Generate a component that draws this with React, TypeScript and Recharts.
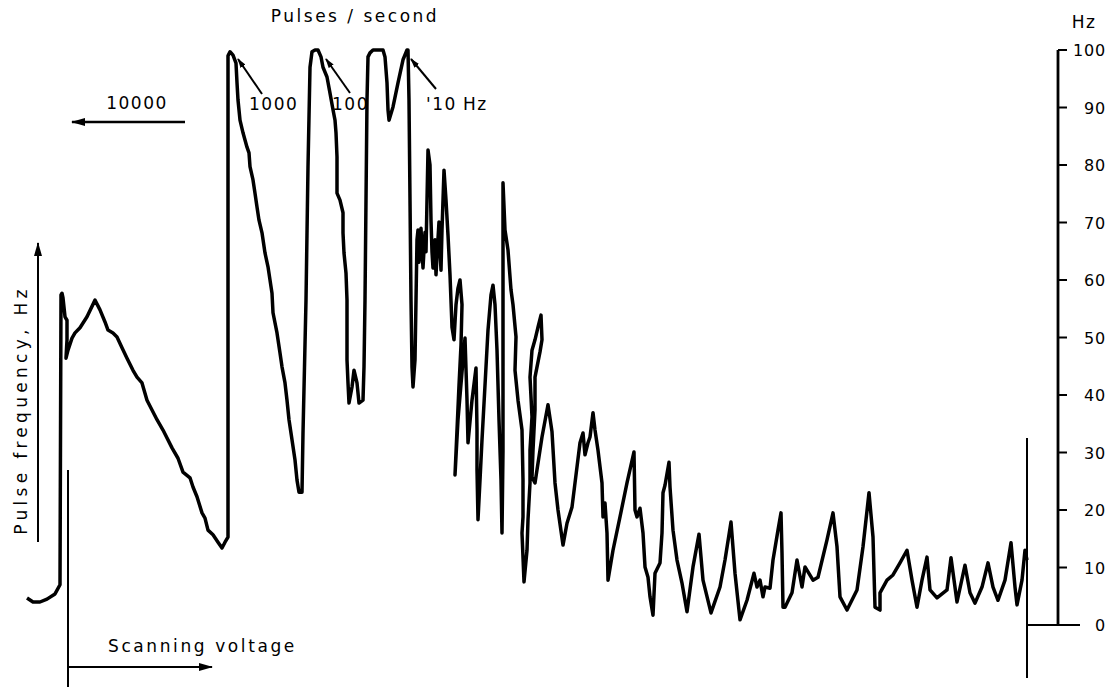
import React from 'react'
import { LineChart, Line, XAxis, YAxis } from 'recharts'

// trace: [scanning position, pulse frequency Hz]
const startHook: [number, number][] = [
    [0, 4.7], [6, 4.0], [13, 4.0], [20, 4.5], [28, 5.4], [33, 7.0], [34, 57.4], [35, 57.7], [36, 56.9],
    [38, 53.6], [40, 53.0], [40, 49.6], [39, 46.4], [41, 47.8], [45, 49.9], [48, 50.8], [53, 51.7], [60, 53.6], [68, 56.5],
]

const firstRamp: [number, number][] = [
    [73, 54.8], [78, 52.7], [81, 51.3], [86, 50.8], [90, 50.1], [95, 48.2], [100, 46.4], [106, 44.3], [110, 43.1],
    [115, 42.1], [120, 39.1], [125, 37.4], [130, 35.7], [136, 33.9], [145, 30.8], [151, 29.0], [156, 26.6], [163, 25.6],
    [166, 24.0], [170, 22.3], [175, 19.5], [178, 18.6], [181, 16.5], [186, 15.7], [191, 14.4], [195, 13.4], [198, 14.4], [201, 15.3],
]

const peak1000: [number, number][] = [
    [201, 99.0], [203, 99.7], [206, 99.1], [209, 97.7], [210, 94.3], [211, 91.3], [213, 87.8], [216, 85.6], [220, 83.1],
    [222, 82.1], [223, 79.7], [226, 77.4], [228, 75.1], [230, 72.7], [232, 70.4], [235, 68.2], [238, 64.7], [241, 62.3],
    [243, 60.0], [245, 57.7], [246, 54.3], [250, 50.8], [253, 47.3], [255, 44.9], [258, 42.1], [260, 39.1], [262, 35.7],
    [265, 32.2], [268, 28.7], [270, 25.2], [272, 23.1], [275, 23.1],
]

const peak100: [number, number][] = [
    [276, 33.4], [279, 56.5], [281, 79.7], [283, 97.0], [285, 99.7], [288, 100], [291, 100], [294, 98.8], [296, 97.0],
    [300, 95.3], [303, 92.5], [306, 89.6], [308, 87.8], [309, 85.6], [310, 81.4], [310, 75.1], [313, 73.9], [316, 71.7],
    [316, 68.2], [317, 64.7], [319, 61.2], [320, 56.5], [320, 50.8], [320, 46.1], [321, 42.1], [322, 38.6], [325, 41.4],
    [327, 44.3], [330, 42.1], [332, 38.6], [336, 39.1],
]

const peak10: [number, number][] = [
    [337, 44.9], [338, 56.5], [339, 73.9], [340, 91.3], [341, 98.8], [343, 99.5], [346, 100], [356, 100], [358, 98.8],
    [360, 94.3], [361, 89.6], [362, 87.8], [366, 90.1], [371, 94.3], [376, 98.3], [380, 100], [381, 100], [382, 91.3],
    [383, 73.9], [384, 56.5], [385, 44.9], [386, 41.4],
]

const noisyBurst: [number, number][] = [
    [388, 46.1], [389, 56.5], [390, 67.0], [391, 68.7], [392, 63.1], [394, 69.0], [396, 62.1], [398, 68.3], [399, 64.9],
    [400, 73.9], [401, 82.6], [403, 80.0], [404, 70.4], [405, 64.9], [406, 62.1], [408, 67.0], [409, 60.9], [410, 64.3],
    [412, 70.1], [413, 65.2], [414, 61.7], [415, 68.7], [417, 79.1], [419, 73.9], [421, 67.8], [423, 60.9], [425, 51.8],
    [427, 49.6], [429, 55.7], [431, 58.6], [433, 60.0], [435, 55.7], [434, 48.7], [432, 41.7], [430, 33.9], [428, 26.1],
    [431, 35.7], [435, 44.0], [438, 49.9], [440, 39.1], [441, 31.7], [445, 39.1], [449, 44.7], [450, 33.9], [450, 27.0],
    [451, 18.3], [453, 25.2], [455, 32.2], [458, 41.7], [461, 51.3], [464, 57.4], [466, 59.1], [468, 55.7], [470, 47.8],
    [472, 35.7], [474, 25.2], [475, 16.0],
]

const bigSpike: [number, number][] = [
    [476, 30.4], [476, 47.8], [476, 65.2], [476, 76.9], [478, 68.7], [481, 65.2], [484, 58.3], [486, 55.7], [489, 50.1],
    [488, 44.3], [491, 39.1], [495, 33.9], [496, 25.2], [496, 18.8], [495, 16.0], [497, 7.5], [500, 13.0], [501, 18.3],
    [503, 24.7], [503, 30.4], [505, 36.2], [503, 43.1], [505, 47.8], [508, 49.6], [511, 51.8], [514, 53.9], [515, 49.6],
    [513, 47.5], [508, 43.1], [508, 37.4], [506, 30.4], [505, 25.7], [508, 24.7], [510, 27.0], [515, 32.7], [521, 38.3],
    [525, 33.6], [528, 24.7], [531, 20.0], [536, 13.9],
]

const midDecay: [number, number][] = [
    [540, 17.7], [545, 20.5], [550, 27.5], [553, 31.7], [556, 33.4], [558, 29.6], [561, 31.7], [563, 32.7], [566, 36.9],
    [568, 33.9], [571, 30.4], [575, 24.7], [576, 18.8], [578, 21.2], [580, 16.0], [581, 7.8], [586, 13.0], [593, 18.8],
    [600, 24.7], [607, 30.1], [608, 20.0], [610, 18.8], [613, 20.3], [616, 16.0], [618, 10.1], [621, 8.3], [623, 4.9],
    [626, 1.7], [628, 9.0], [633, 10.8], [635, 16.0], [636, 23.0], [638, 24.3], [642, 28.3], [643, 24.0], [646, 16.5],
    [650, 11.3], [655, 7.3], [660, 2.3],
]

const lowTail: [number, number][] = [
    [666, 10.1], [672, 15.8], [676, 7.8], [684, 2.1], [693, 6.6], [698, 11.3], [704, 17.9], [708, 9.0], [713, 0.9],
    [720, 4.3], [727, 9.0], [730, 6.6], [733, 7.8], [736, 4.9], [738, 6.6], [743, 6.4], [746, 11.3], [751, 16.5],
    [754, 19.5], [755, 12.5], [756, 3.1], [758, 3.1], [765, 5.6], [770, 11.3], [775, 6.6], [778, 10.1], [786, 7.8],
    [791, 8.3], [800, 14.8], [806, 19.5], [810, 13.6], [813, 4.9], [820, 2.6], [830, 6.1], [836, 13.6], [842, 23.0],
    [846, 15.3], [848, 3.1], [853, 2.6], [853, 5.6], [860, 7.8], [866, 8.7], [873, 10.8], [880, 13.0], [885, 7.8],
    [890, 3.1], [895, 7.8], [900, 11.8], [903, 6.1], [910, 4.7], [920, 6.1], [924, 11.7], [930, 4.0], [938, 10.4],
    [943, 5.6], [948, 3.8], [955, 6.6], [961, 10.8], [966, 6.6], [971, 4.3], [978, 7.8], [984, 14.3], [988, 6.6],
    [990, 3.5], [995, 7.8], [998, 13.0], [1000, 11.3],
]

const hzTicks = [0, 10, 20, 30, 40, 50, 60, 70, 80, 90, 100]

const trace = [...startHook, ...firstRamp, ...peak1000, ...peak100, ...peak10, ...noisyBurst, ...bigSpike, ...midDecay, ...lowTail]
    .map(([x, hz]) => ({ x, hz }))

const FONT = '"DejaVu Sans", sans-serif'

const HzTick = (props: any) => {
    const { x, y, payload } = props
    return (
        <g>
            {payload.value === 0 && (
                <line x1={x - 40} y1={y} x2={x + 13} y2={y} stroke="#000" strokeWidth={2} />
            )}
            <text x={x + 39} y={y} dy={6} textAnchor="end" fontSize={16} fontFamily={FONT} letterSpacing={0.8} fill="#000">
                {payload.value}
            </text>
        </g>
    )
}

const txt = { fontFamily: FONT, fontSize: 17, fill: '#000', letterSpacing: 1.5 }

export default function App() {
    return (
        <div style={{ position: 'absolute', left: 0, top: 0, width: 1113, height: 687, background: '#fff' }}>
            <LineChart width={1113} height={687} data={trace} margin={{ top: 50, right: 0, bottom: 62, left: 20 }}>
                <XAxis dataKey="x" type="number" domain={[-7, 1031]} hide />
                <YAxis
                    orientation="right"
                    width={55}
                    domain={[0, 100]}
                    ticks={hzTicks}
                    interval={0}
                    axisLine={{ stroke: '#000', strokeWidth: 2.8 }}
                    tickLine={{ stroke: '#000', strokeWidth: 2 }}
                    tickSize={9}
                    tickMargin={0}
                    tick={<HzTick />}
                />
                <Line
                    type="linear"
                    dataKey="hz"
                    stroke="#000"
                    strokeWidth={3.5}
                    strokeLinejoin="round"
                    dot={false}
                    isAnimationActive={false}
                />
            </LineChart>

            {/* annotations of the original recorder sheet */}
            <svg width={1113} height={687} style={{ position: 'absolute', left: 0, top: 0, pointerEvents: 'none' }}>
                <defs>
                    <marker id="head" viewBox="0 0 10 6" refX="9" refY="3" markerWidth="10" markerHeight="6" markerUnits="userSpaceOnUse" orient="auto">
                        <path d="M0,0 L10,3 L0,6 z" fill="#000" />
                    </marker>
                    <marker id="bighead" viewBox="0 0 14 8" refX="13" refY="4" markerWidth="14" markerHeight="8" markerUnits="userSpaceOnUse" orient="auto">
                        <path d="M0,0 L14,4 L0,8 z" fill="#000" />
                    </marker>
                </defs>

                <text x={355} y={22} textAnchor="middle" {...txt} letterSpacing={2.5}>Pulses / second</text>
                <text x={1084} y={28} textAnchor="middle" {...txt}>Hz</text>

                <text x={137} y={109} textAnchor="middle" {...txt}>10000</text>
                <line x1={185} y1={122} x2={72} y2={122} stroke="#000" strokeWidth={2.5} markerEnd="url(#bighead)" />

                <text x={249} y={110} {...txt}>1000</text>
                <line x1={262} y1={94} x2={238} y2={59} stroke="#000" strokeWidth={2} markerEnd="url(#head)" />

                <text x={332} y={110} {...txt}>100</text>
                <line x1={350} y1={93} x2={326} y2={59} stroke="#000" strokeWidth={2} markerEnd="url(#head)" />

                <text x={426} y={110} {...txt}>'10</text>
                <text x={463} y={110} {...txt}>Hz</text>
                <line x1={436} y1={89} x2={411} y2={59} stroke="#000" strokeWidth={2} markerEnd="url(#head)" />

                <line x1={38} y1={542} x2={38} y2={243} stroke="#000" strokeWidth={2} markerEnd="url(#bighead)" />
                <text transform="translate(27,410) rotate(-90)" textAnchor="middle" {...txt} letterSpacing={4.3}>Pulse frequency, Hz</text>

                <line x1={68} y1={470} x2={68} y2={687} stroke="#000" strokeWidth={2} />
                <line x1={68} y1={667} x2={212} y2={667} stroke="#000" strokeWidth={2} markerEnd="url(#bighead)" />
                <text x={108} y={652} {...txt} letterSpacing={2.6}>Scanning voltage</text>

                <line x1={1027} y1={438} x2={1027} y2={678} stroke="#000" strokeWidth={2} />
            </svg>
        </div>
    )
}
